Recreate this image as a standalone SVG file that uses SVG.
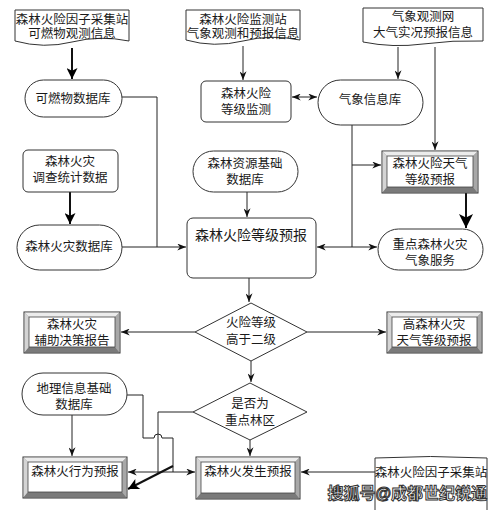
<svg xmlns="http://www.w3.org/2000/svg" width="499" height="510" viewBox="0 0 499 510">
<defs>
<style>
.t{font-family:"Liberation Sans","Noto Sans CJK SC",sans-serif;font-size:12.5px;fill:#1a1a1a;text-anchor:middle;dominant-baseline:central}
.big{font-size:14px}
.sh{fill:#fff;stroke:#333;stroke-width:1}
.ln{fill:none;stroke:#222;stroke-width:1}
.hv{fill:none;stroke:#111;stroke-width:2}
.bo{fill:#999;stroke:#333;stroke-width:1}
.bt{fill:#ececec}
.bl{fill:#d4d4d4}
.bb{fill:#7a7a7a}
.br{fill:#a8a8a8}
.bi{fill:#fff;stroke:#444;stroke-width:0.8}
.wm{font-family:"Liberation Sans","Noto Sans CJK SC",sans-serif;font-size:16px;font-weight:bold;fill:#fff;stroke:#333;stroke-width:1;text-anchor:end;dominant-baseline:central}
</style>
<marker id="a" viewBox="0 0 10 8" refX="10" refY="4" markerWidth="9" markerHeight="7" markerUnits="userSpaceOnUse" orient="auto-start-reverse"><path d="M0,0 L10,4 L0,8 L3,4 Z" fill="#111"/></marker>
<marker id="h" viewBox="0 0 10 10" refX="10" refY="5" markerWidth="12" markerHeight="11" markerUnits="userSpaceOnUse" orient="auto"><path d="M0,0 L10,5 L0,10 L2.5,5 Z" fill="#000"/></marker>
<marker id="H" viewBox="0 0 10 10" refX="10" refY="5" markerWidth="16" markerHeight="14" markerUnits="userSpaceOnUse" orient="auto"><path d="M0,0 L10,5 L0,10 L2.5,5 Z" fill="#000"/></marker>
</defs>
<rect width="499" height="510" fill="#fff"/>

<g id="connectors">
<path class="hv" d="M72,48 V79" marker-end="url(#h)"/>
<path class="ln" d="M243,46 V80" marker-end="url(#a)"/>
<path class="ln" d="M398,47 V79" marker-end="url(#a)"/>
<path class="ln" d="M292,97 H317" marker-start="url(#a)" marker-end="url(#a)"/>
<path class="ln" d="M122,97 H157 V247"/>
<path class="ln" d="M122,247 H186" marker-end="url(#a)"/>
<path class="hv" d="M70,192 V224" marker-end="url(#h)"/>
<path class="ln" d="M247,192 V217" marker-end="url(#a)"/>
<path class="ln" d="M435,47 V150" marker-end="url(#a)"/>
<path class="ln" d="M352,125 V247"/>
<path class="ln" d="M352,165 H381" marker-end="url(#a)"/>
<path class="ln" d="M352,247 H317" marker-end="url(#a)"/>
<path class="ln" d="M352,247 H377" marker-end="url(#a)"/>
<path class="hv" d="M466,193 V228" marker-end="url(#H)"/>
<path class="ln" d="M249,278 V302" marker-end="url(#a)"/>
<path class="ln" d="M195,332 H121" marker-end="url(#a)"/>
<path class="ln" d="M307,332 H386" marker-end="url(#a)"/>
<path class="ln" d="M251,361 V382" marker-end="url(#a)"/>
<path class="ln" d="M250,440 V456" marker-end="url(#a)"/>
<path class="ln" d="M72,415 V456" marker-end="url(#a)"/>
<path class="ln" d="M127,395 H143 V438 H154 A4,4 0 0 1 162,438 H173 V472 H195" marker-end="url(#a)"/>
<path class="ln" d="M173,472 H128" marker-end="url(#a)"/>
<path class="ln" d="M193,412 H158 V474"/>
<path class="hv" d="M173,466 L128,489" marker-end="url(#h)"/>
<path class="ln" d="M375,472 H301" marker-end="url(#a)"/>
</g>

<g id="doc1"><path class="sh" d="M15,10 H129 V41 Q100,35 72,42 Q44,49 15,41 Z"/>
<text class="t" x="72" y="20">森林火险因子采集站</text><text class="t" x="72" y="34">可燃物观测信息</text></g>

<g id="doc2"><path class="sh" d="M186,10 H300 V40 Q271,34 243,41 Q214,48 186,40 Z"/>
<text class="t" x="243" y="20">森林火险监测站</text><text class="t" x="243" y="34">气象观测和预报信息</text></g>

<g id="doc3"><path class="sh" d="M363,8 H483 V41 Q453,40 423,44 Q393,48 363,42 Z"/>
<text class="t" x="423" y="17">气象观测网</text><text class="t" x="423" y="33">大气实况预报信息</text></g>

<g id="fuelDb"><rect class="sh" x="25" y="80" width="97" height="37" rx="18.5"/>
<text class="t" x="73" y="99">可燃物数据库</text></g>

<g id="monitor"><rect class="sh" x="201" y="81" width="90" height="41" rx="5"/>
<text class="t" x="246" y="94">森林火险</text><text class="t" x="246" y="110">等级监测</text></g>

<g id="weatherDb"><rect class="sh" x="318" y="80" width="105" height="45" rx="22.5"/>
<text class="t" x="370" y="100">气象信息库</text></g>

<g id="survey"><rect class="sh" x="23" y="150" width="95" height="42" rx="5"/>
<text class="t" x="70" y="162">森林火灾</text><text class="t" x="70" y="178">调查统计数据</text></g>

<g id="resourceDb"><rect class="sh" x="193" y="151" width="105" height="41" rx="20.5"/>
<text class="t" x="245" y="164">森林资源基础</text><text class="t" x="245" y="180">数据库</text></g>

<g id="weatherForecast">
<rect class="bo" x="382" y="151" width="96" height="42"/>
<polygon class="bt" points="382.5,151.5 477.5,151.5 473,156 387,156"/>
<polygon class="bl" points="382.5,151.5 387,156 387,187 382.5,192.5"/>
<polygon class="bb" points="382.5,192.5 387,187 473,187 477.5,192.5"/>
<polygon class="br" points="477.5,151.5 477.5,192.5 473,187 473,156"/>
<rect class="bi" x="387" y="156" width="86" height="31"/>
<text class="t" x="430" y="164">森林火险天气</text><text class="t" x="430" y="180">等级预报</text></g>

<g id="fireDb"><rect class="sh" x="17" y="225" width="105" height="45" rx="22.5"/>
<text class="t" x="69" y="247">森林火灾数据库</text></g>

<g id="riskForecast"><rect class="sh" x="187" y="218" width="129" height="60" rx="6"/>
<text class="t big" x="251" y="235">森林火险等级预报</text></g>

<g id="keyService"><rect class="sh" x="378" y="229" width="105" height="41" rx="20.5"/>
<text class="t" x="430" y="245">重点森林火灾</text><text class="t" x="430" y="261">气象服务</text></g>

<g id="decision1"><polygon class="sh" points="251,303 307,332 251,361 195,332"/>
<text class="t" x="251" y="323">火险等级</text><text class="t" x="251" y="340">高于二级</text></g>

<g id="assistReport">
<rect class="bo" x="24" y="312" width="96" height="41"/>
<polygon class="bt" points="24.5,312.5 119.5,312.5 115,317 29,317"/>
<polygon class="bl" points="24.5,312.5 29,317 29,347 24.5,352.5"/>
<polygon class="bb" points="24.5,352.5 29,347 115,347 119.5,352.5"/>
<polygon class="br" points="119.5,312.5 119.5,352.5 115,347 115,317"/>
<rect class="bi" x="29" y="317" width="86" height="30"/>
<text class="t" x="72" y="325">森林火灾</text><text class="t" x="72" y="341">辅助决策报告</text></g>

<g id="highForecast">
<rect class="bo" x="387" y="312" width="95" height="41"/>
<polygon class="bt" points="387.5,312.5 481.5,312.5 477,317 392,317"/>
<polygon class="bl" points="387.5,312.5 392,317 392,347 387.5,352.5"/>
<polygon class="bb" points="387.5,352.5 392,347 477,347 481.5,352.5"/>
<polygon class="br" points="481.5,312.5 481.5,352.5 477,347 477,317"/>
<rect class="bi" x="392" y="317" width="85" height="30"/>
<text class="t" x="434" y="325">高森林火灾</text><text class="t" x="434" y="341">天气等级预报</text></g>

<g id="geoDb"><rect class="sh" x="22" y="373" width="105" height="42" rx="21"/>
<text class="t" x="74" y="389">地理信息基础</text><text class="t" x="74" y="405">数据库</text></g>

<g id="decision2"><polygon class="sh" points="250,383 307,412 250,440 193,412"/>
<text class="t" x="250" y="404">是否为</text><text class="t" x="250" y="421">重点林区</text></g>

<g id="behaviorForecast">
<rect class="bo" x="23" y="457" width="104" height="41"/>
<polygon class="bt" points="23.5,457.5 126.5,457.5 122,462 28,462"/>
<polygon class="bl" points="23.5,457.5 28,462 28,492 23.5,497.5"/>
<polygon class="bb" points="23.5,497.5 28,492 122,492 126.5,497.5"/>
<polygon class="br" points="126.5,457.5 126.5,497.5 122,492 122,462"/>
<rect class="bi" x="28" y="462" width="94" height="30"/>
<text class="t" x="75" y="472">森林火行为预报</text></g>

<g id="occurForecast">
<rect class="bo" x="196" y="457" width="104" height="42"/>
<polygon class="bt" points="196.5,457.5 299.5,457.5 295,462 201,462"/>
<polygon class="bl" points="196.5,457.5 201,462 201,493 196.5,498.5"/>
<polygon class="bb" points="196.5,498.5 201,493 295,493 299.5,498.5"/>
<polygon class="br" points="299.5,457.5 299.5,498.5 295,493 295,462"/>
<rect class="bi" x="201" y="462" width="94" height="31"/>
<text class="t" x="248" y="472">森林火发生预报</text></g>

<g id="doc4"><path class="sh" d="M375,458 Q430,455 487,458 V515 H375 Z"/>
<text class="t" x="431" y="473">森林火险因子采集站</text></g>

<text class="wm" x="487" y="493">搜狐号@成都世纪锐通</text>
</svg>
